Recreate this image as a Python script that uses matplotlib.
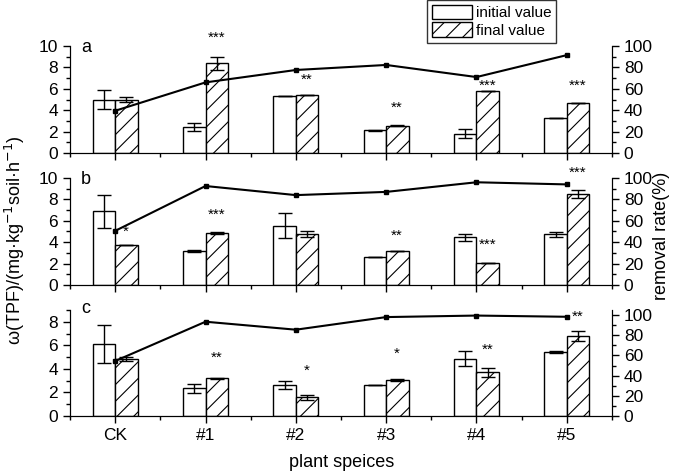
import numpy as np
import matplotlib.pyplot as plt
from matplotlib.ticker import MultipleLocator
from matplotlib.patches import Patch

plt.rcParams['font.family'] = ['Liberation Sans', 'DejaVu Sans']
plt.rcParams['hatch.linewidth'] = 0.8

# categorias do eixo x
categorias = ['CK', '#1', '#2', '#3', '#4', '#5']

# painel a
inicial_a = [5.0, 2.45, 5.37, 2.12, 1.8, 3.3]
inicial_a_err = [0.9, 0.4, 0.0, 0.05, 0.42, 0.0]
final_a = [5.0, 8.4, 5.45, 2.55, 5.75, 4.72]
final_a_err = [0.2, 0.6, 0.0, 0.05, 0.0, 0.0]
remocao_a = [39.5, 66, 77.6, 82.3, 71, 91.5]
sig_a = ['', '***', '**', '**', '***', '***']
sig_a_y = [0, 10.8, 6.8, 4.2, 6.3, 6.3]

# painel b
inicial_b = [6.9, 3.19, 5.56, 2.62, 4.44, 4.75]
inicial_b_err = [1.55, 0.1, 1.15, 0.04, 0.3, 0.23]
final_b = [3.72, 4.84, 4.75, 3.19, 2.03, 8.47]
final_b_err = [0.0, 0.1, 0.3, 0.0, 0.0, 0.37]
remocao_b = [50.6, 92.5, 84, 87, 96, 94]
sig_b = ['*', '***', '', '**', '***', '***']
sig_b_y = [5.0, 6.6, 0, 4.6, 3.8, 10.5]

# painel c
inicial_c = [6.09, 2.35, 2.63, 2.6, 4.87, 5.44]
inicial_c_err = [1.6, 0.38, 0.37, 0.0, 0.63, 0.05]
final_c = [4.84, 3.2, 1.59, 3.05, 3.7, 6.78]
final_c_err = [0.15, 0.03, 0.2, 0.1, 0.4, 0.45]
remocao_c = [54.5, 93.4, 85.5, 98, 99.5, 98.3]
sig_c = ['', '**', '*', '*', '**', '**']
sig_c_y = [0, 4.96, 3.85, 5.3, 5.64, 8.43]

paineis = [
    ('a', inicial_a, inicial_a_err, final_a, final_a_err, remocao_a, sig_a, sig_a_y, 10, 100),
    ('b', inicial_b, inicial_b_err, final_b, final_b_err, remocao_b, sig_b, sig_b_y, 10, 100),
    ('c', inicial_c, inicial_c_err, final_c, final_c_err, remocao_c, sig_c, sig_c_y, 9, 105),
]
posicoes = [
    [0.1036, 0.6758, 0.8017, 0.2267],
    [0.1036, 0.3962, 0.8017, 0.2267],
    [0.1036, 0.1186, 0.8017, 0.2246],
]

fig = plt.figure(figsize=(6.76, 4.72), dpi=100)
x = np.arange(len(categorias))
larg = 0.25
err_kw = dict(elinewidth=1, capthick=1, ecolor='black')

for i, (letra, ini, ini_e, fin, fin_e, rem, sig, sig_y, ymax, ymax2) in enumerate(paineis):
    ax = fig.add_axes(posicoes[i])
    ax.bar(x - larg / 2, ini, larg, yerr=ini_e, color='white', edgecolor='black',
           linewidth=1, capsize=5, error_kw=err_kw, zorder=2)
    ax.bar(x + larg / 2, fin, larg, yerr=fin_e, color='white', edgecolor='black',
           linewidth=1, hatch='//', capsize=5, error_kw=err_kw, zorder=2)
    for j in range(len(categorias)):
        if sig[j]:
            ax.text(x[j] + 0.12, sig_y[j], sig[j], ha='center', va='center', fontsize=11)
    ax.set_xlim(-0.5, 5.5)
    ax.set_ylim(0, ymax)
    ax.yaxis.set_major_locator(MultipleLocator(2))
    ax.yaxis.set_minor_locator(MultipleLocator(1))
    ax.set_xticks(x)
    ax.xaxis.set_minor_locator(MultipleLocator(0.5))
    ax.tick_params(which='major', length=5, width=1, labelsize=12.5, direction='out')
    ax.tick_params(which='minor', length=3, width=1, direction='out')
    ax.spines['top'].set_visible(False)
    if letra == 'c':
        ax.set_xticklabels(categorias)
    else:
        ax.set_xticklabels([])
    ax.text(0.02, 0.99 if letra != 'c' else 1.01, letra, transform=ax.transAxes,
            ha='left', va='center', fontsize=13)

    ax2 = ax.twinx()
    ax2.plot(x, rem, color='black', marker='s', markersize=3, linewidth=1.5)
    ax2.set_ylim(0, ymax2)
    ax2.yaxis.set_major_locator(MultipleLocator(20))
    ax2.yaxis.set_minor_locator(MultipleLocator(10))
    ax2.tick_params(which='major', length=5, width=1, labelsize=12.5, direction='out')
    ax2.tick_params(which='minor', length=3, width=1, direction='out')
    ax2.spines['top'].set_visible(False)

fig.text(0.022, 0.49, r'ω(TPF)/(mg·kg$^{-1}$soil·h$^{-1}$)', rotation=90,
         ha='center', va='center', fontsize=13)
fig.text(0.978, 0.50, 'removal rate(%)', rotation=90, ha='center', va='center', fontsize=13)
fig.text(0.505, 0.02, 'plant speices', ha='center', va='center', fontsize=13)

alcas = [Patch(facecolor='white', edgecolor='black', label='initial value'),
         Patch(facecolor='white', edgecolor='black', hatch='//', label='final value')]
fig.legend(handles=alcas, loc='upper left', bbox_to_anchor=(0.632, 1.0),
           fontsize=11, frameon=True, fancybox=False, edgecolor='black',
           handlelength=2.6, handleheight=1.1, borderpad=0.3, labelspacing=0.15,
           handletextpad=0.3, borderaxespad=0)

plt.savefig('out.png', dpi=100)
